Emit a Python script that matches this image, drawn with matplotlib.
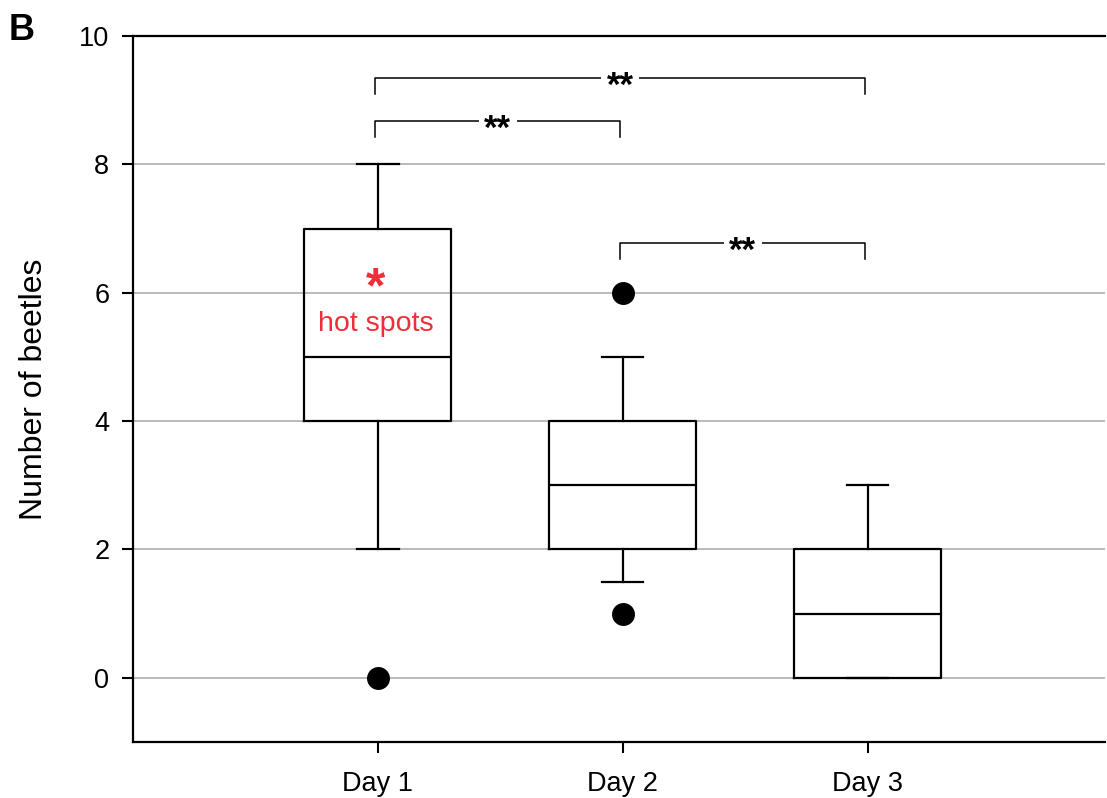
import matplotlib
matplotlib.use("Agg")
import matplotlib.pyplot as plt

plt.rcParams["font.family"] = ["Liberation Sans", "DejaVu Sans"]
plt.rcParams["mathtext.fontset"] = "custom"
plt.rcParams["mathtext.rm"] = "Liberation Sans"
plt.rcParams["mathtext.bf"] = "Liberation Sans:bold"

# box statistics
days = ["Day 1", "Day 2", "Day 3"]
q1 = [4, 2, 0]
med = [5, 3, 1]
q3 = [7, 4, 2]
whis_lo = [2, 1.5, 0]
whis_hi = [8, 5, 3]
outliers = [[0], [1, 6], []]

# significance brackets: (left day, right day, bar height)
brackets = [(1, 3, 9.35), (1, 2, 8.68), (2, 3, 6.78)]
bracket_labels = ["**", "**", "**"]

stats = []
for i in range(len(days)):
    stats.append(dict(label=days[i], q1=q1[i], med=med[i], q3=q3[i],
                      whislo=whis_lo[i], whishi=whis_hi[i], fliers=outliers[i]))

fig = plt.figure(figsize=(11.07, 7.98), dpi=100)
ax = fig.add_axes([0.1201, 0.0702, 0.8781, 0.8847])

for y in [0, 2, 4, 6, 8]:
    ax.axhline(y, color="#b4b4b4", lw=1.3, zorder=0)

lw = 1.6
ax.bxp(stats, positions=[1, 2, 3], widths=0.6, showfliers=True,
       boxprops=dict(color="black", lw=lw),
       medianprops=dict(color="black", lw=lw),
       whiskerprops=dict(color="black", lw=lw),
       capprops=dict(color="black", lw=lw),
       capwidths=0.17,
       flierprops=dict(marker="o", markerfacecolor="black", markeredgecolor="black",
                       markersize=15.5))

drop = 0.26
for (a, b, h), lab in zip(brackets, bracket_labels):
    ax.plot([a - 0.01, a - 0.01, b - 0.01, b - 0.01], [h - drop, h, h, h - drop],
            color="black", lw=1.1, zorder=3)
    ax.text((a + b) / 2 - 0.01, h - 0.14, lab, ha="center", va="center", fontsize=25,
            fontweight="bold", zorder=4,
            bbox=dict(facecolor="white", edgecolor="none", pad=4))

red = "#ec2f3a"
# mathtext keeps the box tight around the glyph
ax.text(0.99, 6.07, r"$\mathbf{*}$", ha="center", va="center", color=red, fontsize=36)
ax.text(0.99, 5.52, "hot spots", ha="center", va="center", color=red, fontsize=20.5)

ax.set_xlim(0, 3.97)
ax.set_ylim(-1, 10)
ax.set_yticks([0, 2, 4, 6, 8, 10])
ax.set_xticks([1, 2, 3])
ax.set_xticklabels(days)
ax.tick_params(direction="out", length=8, width=1.5, labelsize=19.5, pad=9)
ax.tick_params(axis="x", pad=13)
ax.set_ylabel("Number of beetles", fontsize=23, labelpad=22)

ax.spines["right"].set_visible(False)
for s in ["top", "bottom", "left"]:
    ax.spines[s].set_linewidth(1.6)

fig.text(0.008, 0.962, "B", fontsize=26, fontweight="bold", va="center", ha="left")

fig.savefig("out.png", dpi=100)
